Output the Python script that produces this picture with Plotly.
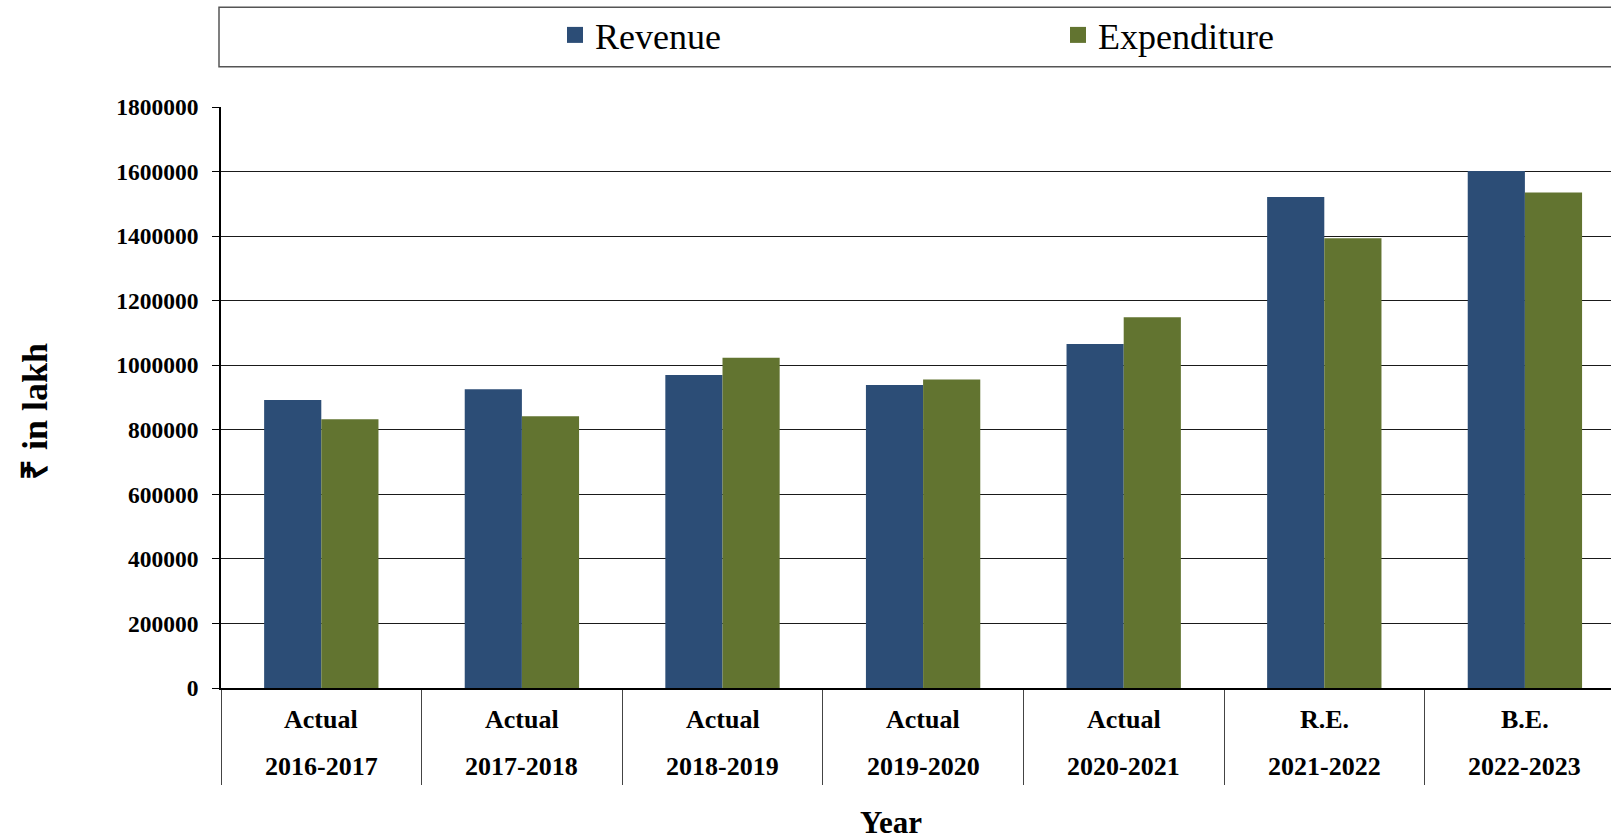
import plotly.graph_objects as go

years = ["2016-2017", "2017-2018", "2018-2019", "2019-2020", "2020-2021", "2021-2022", "2022-2023"]
types = ["Actual", "Actual", "Actual", "Actual", "Actual", "R.E.", "B.E."]
revenue = [892600, 925700, 970000, 939000, 1065900, 1520900, 1601400]
expenditure = [832900, 842100, 1023500, 955400, 1148600, 1393000, 1535400]
y_ticks = [0, 200000, 400000, 600000, 800000, 1000000, 1200000, 1400000, 1600000, 1800000]

FONT = "Liberation Serif, Times New Roman, serif"
W, H = 1611, 840
ML, MR, MT, MB = 221, 0, 107, 152
PH = H - MT - MB
PW = W - ML - MR
CAT_PX = 200.6
BLUE = "#2C4D76"
GREEN = "#627430"


def py(p):
    return (H - MB - p) / PH


def px(p):
    return (p - ML) / PW


fig = go.Figure()
fig.add_trace(go.Bar(x=years, y=revenue, name="Revenue", marker=dict(color=BLUE, line=dict(width=0)),
                     showlegend=False))
fig.add_trace(go.Bar(x=years, y=expenditure, name="Expenditure", marker=dict(color=GREEN, line=dict(width=0)),
                     showlegend=False))
# legend entries (no data drawn) so the key squares can be larger than the bar default
fig.add_trace(go.Scatter(x=[None], y=[None], mode="markers", name="Revenue", legend="legend",
                         marker=dict(symbol="square", size=16, color=BLUE, line=dict(width=0))))
fig.add_trace(go.Scatter(x=[None], y=[None], mode="markers", name="Expenditure", legend="legend2",
                         marker=dict(symbol="square", size=16, color=GREEN, line=dict(width=0))))

annotations = []
for yr, t in zip(years, types):
    annotations.append(dict(x=yr, xref="x", y=py(719), yref="paper", text=t, showarrow=False,
                            xanchor="center", yanchor="middle",
                            font=dict(family=FONT, size=26, color="black", weight="bold")))
    annotations.append(dict(x=yr, xref="x", y=py(766), yref="paper", text=yr, showarrow=False,
                            xanchor="center", yanchor="middle",
                            font=dict(family=FONT, size=26, color="black", weight="bold")))
annotations.append(dict(x=px(891), xref="paper", y=py(822), yref="paper", text="Year", showarrow=False,
                        xanchor="center", yanchor="middle",
                        font=dict(family=FONT, size=31, color="black", weight="bold")))
annotations.append(dict(x=px(35), xref="paper", y=py(411), yref="paper", text="₹ in lakh", showarrow=False,
                        textangle=-90, xanchor="center", yanchor="middle",
                        font=dict(family=FONT, size=36, color="black", weight="bold")))

ncat_visible = PW / CAT_PX

fig.update_layout(
    width=W, height=H,
    margin=dict(l=ML, r=MR, t=MT, b=MB, pad=0),
    paper_bgcolor="white", plot_bgcolor="white",
    barmode="group", bargap=0.43, bargroupgap=0,
    font=dict(family=FONT, color="black"),
    xaxis=dict(type="category", range=[-0.5, -0.5 + ncat_visible], showticklabels=False,
               tickson="boundaries", ticks="outside", ticklen=95, tickwidth=1, tickcolor="#444",
               showline=True, linecolor="black", linewidth=1.5, showgrid=False, zeroline=False),
    yaxis=dict(range=[0, 1800000], tickvals=y_ticks, ticktext=[str(v) for v in y_ticks],
               ticks="outside", ticklen=7, tickwidth=1, tickcolor="black",
               ticklabelstandoff=9,
               tickfont=dict(family=FONT, size=23.5, color="black", weight="bold"),
               showline=True, linecolor="black", linewidth=1.5,
               showgrid=True, gridcolor="#1a1a1a", gridwidth=1, zeroline=False),
    legend=dict(orientation="h", xref="container", yref="container", x=555 / W, y=1 - 35 / H,
                xanchor="left", yanchor="middle", bgcolor="rgba(0,0,0,0)", borderwidth=0,
                font=dict(family=FONT, size=36, color="black")),
    legend2=dict(orientation="h", xref="container", yref="container", x=1058 / W, y=1 - 35 / H,
                 xanchor="left", yanchor="middle", bgcolor="rgba(0,0,0,0)", borderwidth=0,
                 font=dict(family=FONT, size=36, color="black")),
    shapes=[dict(type="rect", xref="paper", yref="paper", x0=px(219), x1=1.01, y0=py(66.8), y1=py(7.2),
                 line=dict(color="#555", width=1.5), fillcolor="rgba(0,0,0,0)", layer="above")],
    annotations=annotations,
    showlegend=True,
)

fig.write_html("out.html", config={"displayModeBar": False},
               post_script="document.body.style.margin='0px';")
